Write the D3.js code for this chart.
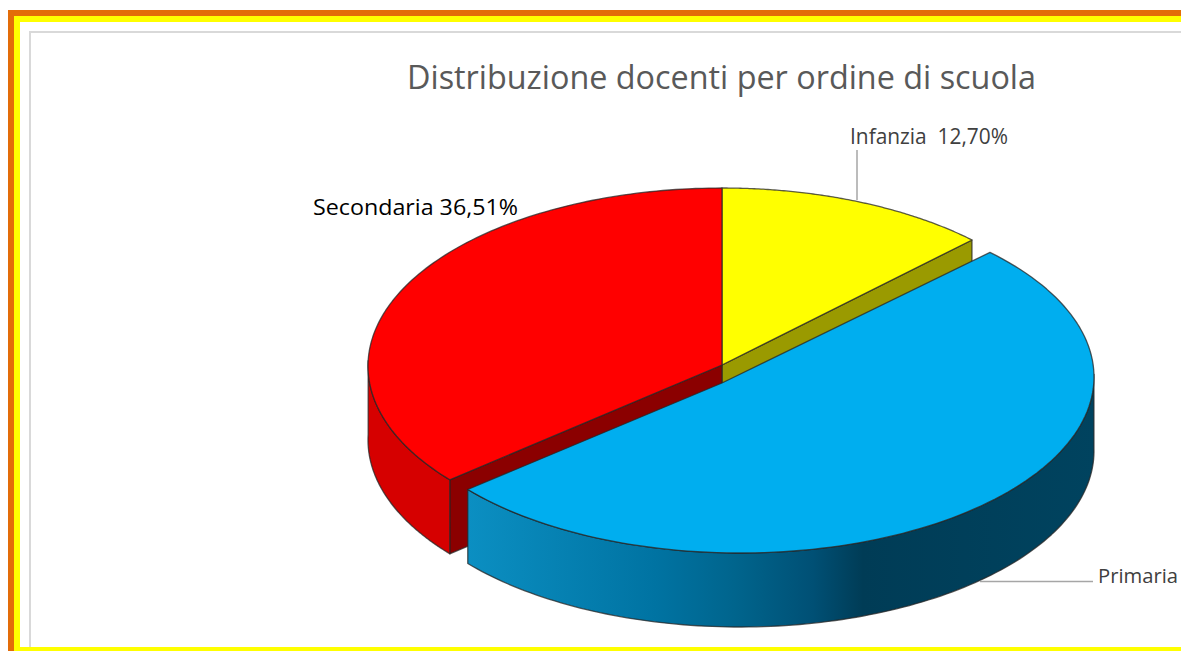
<!DOCTYPE html>
<html>
<head>
<meta charset="utf-8">
<title>Distribuzione docenti per ordine di scuola</title>
<script src="https://cdn.jsdelivr.net/npm/d3@7"></script>
<style>
  html, body { margin: 0; padding: 0; background: #fff; overflow: hidden; }
  svg { display: block; }
  text { font-family: "Open Sans", "Noto Sans", sans-serif; white-space: pre; }
</style>
</head>
<body>
<svg id="chart" width="1181" height="651"></svg>
<script>
/* 3D exploded pie: teachers per school order. Primaria's percentage falls outside the crop. */
const titleText = "Distribuzione docenti per ordine di scuola";
const categories = ["Infanzia", "Primaria", "Secondaria"];
const values = [12.70, 50.79, 36.51];
const labels = ["Infanzia  12,70%", "Primaria", "Secondaria 36,51%"];

const COLOR_TOP = ["#ffff00", "#00aeef", "#ff0000"];
const COLOR_CUT = ["#9a9a00", "#006a94", "#8b0000"]; // inner faces of the wedges
const COLOR_WALL = "#d60000";

const W = 1181, H = 651;
const svg = d3.select("#chart");
const DEPTH = 74;

// Ellipses of the top faces; Primaria is pulled out of the pie
const PIE = { cx: 722, cy: 366, rx: 354, ry: 178, ax: 722, ay: 365 };
const PULLED = { cx: 740, cy: 377, rx: 354, ry: 176, ax: 722, ay: 383 };

// The chart's perspective shifts the visible angles a little (degrees in, degrees out)
function warp(a) {
    const t = a * Math.PI / 180;
    return a - 1.30 * Math.sin(t) + 0.436 * (1 - Math.cos(t));
}
function pt(e, rad, dz) {
    const t = warp(rad * 180 / Math.PI) * Math.PI / 180;
    return [e.cx + e.rx * Math.sin(t), e.cy - e.ry * Math.cos(t) + (dz || 0)];
}
function arcPts(e, a0, a1, dz) {
    const n = 120;
    return d3.range(n + 1).map(i => pt(e, a0 + (a1 - a0) * i / n, dz));
}
const line = d3.line();
const closed = p => line(p) + "Z";

const slices = d3.pie().sort(null).value(d => d)(values);
const [inf, pri, sec] = slices;

// Gradient on the front wall of Primaria
const grad = svg.append("defs").append("linearGradient").attr("id", "wall")
    .attr("gradientUnits", "userSpaceOnUse")
    .attr("x1", 468).attr("x2", 1095).attr("y1", 0).attr("y2", 0);
[[0, "#0b8fc2"], [0.3, "#0073a2"], [0.43, "#00648c"], [0.55, "#005075"], [0.63, "#003c56"], [1, "#00435f"]]
    .forEach(s => grad.append("stop").attr("offset", s[0]).attr("stop-color", s[1]));

// Frame
const frame = svg.append("g");
frame.append("rect").attr("x", 8).attr("y", 10).attr("width", W - 8).attr("height", H - 10).attr("fill", "#e36c09");
frame.append("rect").attr("x", 14).attr("y", 16).attr("width", W - 14).attr("height", H - 16).attr("fill", "#ffff00");
frame.append("rect").attr("x", 20).attr("y", 22).attr("width", W - 20).attr("height", 625).attr("fill", "#fff");
frame.append("rect").attr("x", 29).attr("y", 31).attr("width", W - 29).attr("height", 2).attr("fill", "#d9d9d9");
frame.append("rect").attr("x", 29).attr("y", 31).attr("width", 2).attr("height", 616).attr("fill", "#d9d9d9");

const pie = svg.append("g")
    .attr("stroke", "#262626").attr("stroke-width", 1.3).attr("stroke-opacity", 0.75).attr("stroke-linejoin", "round");

// Inner faces that stay visible behind the pulled slice
function cutFace(e, a, color) {
    const c = pt(e, a);
    pie.append("path").attr("fill", color)
        .attr("d", closed([[e.ax, e.ay], c, [c[0], c[1] + DEPTH], [e.ax, e.ay + DEPTH]]));
}
cutFace(PIE, inf.endAngle, COLOR_CUT[0]);
cutFace(PIE, sec.startAngle, COLOR_CUT[2]);

// Outer wall of Secondaria, from its front corner to the left extreme
const secWallEnd = 1.5 * Math.PI;
pie.append("path").attr("fill", COLOR_WALL)
    .attr("d", closed(arcPts(PIE, sec.startAngle, secWallEnd).concat(arcPts(PIE, secWallEnd, sec.startAngle, DEPTH))));

// Top faces of the two slices that stay in place
[[inf, 0], [sec, 2]].forEach(([s, i]) => {
    pie.append("path").attr("fill", COLOR_TOP[i])
        .attr("d", closed([[PIE.ax, PIE.ay]].concat(arcPts(PIE, s.startAngle, s.endAngle))));
});

// Primaria: front wall, then top face
const priWallEnd = Math.PI / 2;
pie.append("path").attr("fill", "url(#wall)")
    .attr("d", closed(arcPts(PULLED, pri.endAngle, priWallEnd).concat(arcPts(PULLED, priWallEnd, pri.endAngle, DEPTH))));
pie.append("path").attr("fill", COLOR_TOP[1])
    .attr("d", closed([[PULLED.ax, PULLED.ay]].concat(arcPts(PULLED, pri.startAngle, pri.endAngle))));

// Leader lines
const leaders = svg.append("g").attr("stroke", "#a6a6a6").attr("stroke-width", 1.5);
leaders.append("line").attr("x1", 857).attr("x2", 857).attr("y1", 150).attr("y2", 200);
leaders.append("line").attr("x1", 980).attr("x2", 1093).attr("y1", 581.5).attr("y2", 581.5);

// Texts
svg.append("text").attr("x", 407).attr("y", 89)
    .attr("font-size", 33).attr("fill", "#595959")
    .attr("textLength", 629).attr("lengthAdjust", "spacingAndGlyphs")
    .text(titleText);

const labelPos = [
    { x: 850, y: 144, len: 158, size: 22, fill: "#404040" },
    { x: 1098, y: 583, len: 80, size: 20, fill: "#404040" },
    { x: 313, y: 215, len: 205, size: 22, fill: "#000" }
];
svg.append("g").selectAll("text").data(labels).join("text")
    .attr("x", (d, i) => labelPos[i].x)
    .attr("y", (d, i) => labelPos[i].y)
    .attr("font-size", (d, i) => labelPos[i].size)
    .attr("fill", (d, i) => labelPos[i].fill)
    .attr("textLength", (d, i) => labelPos[i].len)
    .attr("lengthAdjust", "spacingAndGlyphs")
    .text(d => d);
</script>
</body>
</html>
